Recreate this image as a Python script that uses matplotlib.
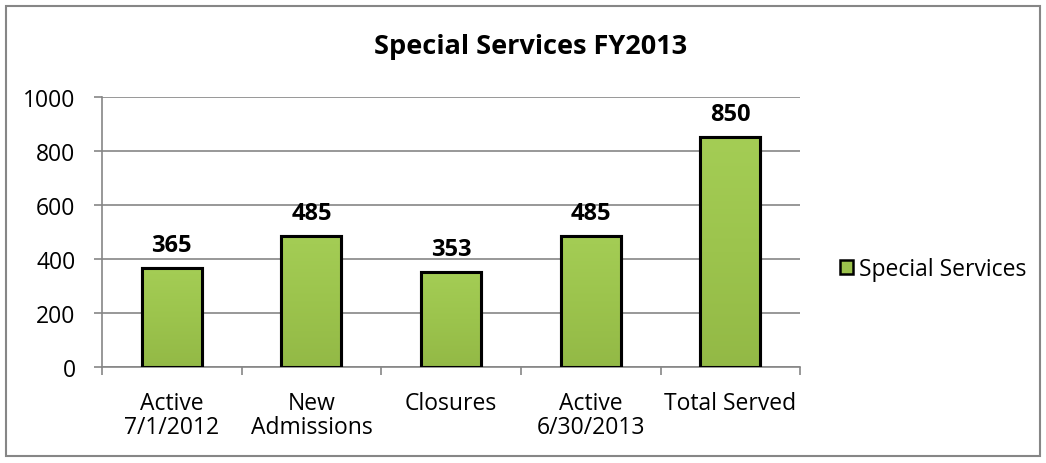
import numpy as np
import matplotlib.pyplot as plt
from matplotlib.patches import Rectangle
from matplotlib.colors import LinearSegmentedColormap

categories = ['Active\n7/1/2012', 'New\nAdmissions', 'Closures', 'Active\n6/30/2013', 'Total Served']
values = [365, 485, 353, 485, 850]
series_name = 'Special Services'
title = 'Special Services FY2013'
y_ticks = [0, 200, 400, 600, 800, 1000]

plt.rcParams['font.family'] = ['Open Sans', 'DejaVu Sans']

fig = plt.figure(figsize=(10.46, 4.64), dpi=100)
ax = fig.add_axes([0.0975, 0.207, 0.6675, 0.582])

# outer chart frame
fig.patches.append(Rectangle((6 / 1046, 7 / 464), 1034 / 1046, 450 / 464,
                             transform=fig.transFigure, fill=False,
                             edgecolor='#868686', linewidth=1.5))

x = np.arange(len(categories))
bars = ax.bar(x, values, width=0.43, color='#9bc24c', edgecolor='black',
              linewidth=2.2, zorder=3, label=series_name)

# soft vertical shading inside each bar
cmap = LinearSegmentedColormap.from_list('grn', ['#93b946', '#9cc44d', '#a4cd55'])
grad = np.linspace(0, 1, 256).reshape(-1, 1)
for b in bars:
    x0, y0 = b.get_x(), b.get_y()
    w, h = b.get_width(), b.get_height()
    im = ax.imshow(grad, cmap=cmap, origin='lower', aspect='auto',
                   extent=(x0, x0 + w, y0, y0 + h), zorder=3.5)
    im.set_clip_path(b)
    ax.add_patch(Rectangle((x0, y0), w, h, fill=False, edgecolor='black',
                           linewidth=2.2, zorder=4))

for xi, v in zip(x, values):
    ax.annotate(str(v), (xi, v), xytext=(0, 8), textcoords='offset points',
                ha='center', va='bottom', fontsize=17, fontweight='bold')

ax.set_xlim(-0.5, len(categories) - 0.5)
ax.set_ylim(0, 1000)
ax.set_yticks(y_ticks)
ax.set_xticks(np.arange(len(categories) + 1) - 0.5, minor=False)
ax.set_xticklabels([])
ax.set_xticks(x, minor=True)
ax.set_xticklabels(categories, minor=True, fontsize=16.5, linespacing=1.0)
ax.tick_params(axis='x', which='minor', length=0, pad=17)
ax.tick_params(axis='x', which='major', length=6, color='#868686', width=1.2)
ax.tick_params(axis='y', length=6, color='#868686', width=1.2, labelsize=16.5, pad=13)

ax.yaxis.grid(True, color='#868686', linewidth=1.2, zorder=0)
ax.set_axisbelow(True)
for s in ['top', 'right']:
    ax.spines[s].set_visible(False)
for s in ['left', 'bottom']:
    ax.spines[s].set_color('#868686')
    ax.spines[s].set_linewidth(1.2)

fig.text(0.507, 0.898, title, ha='center', va='center', fontsize=19.5, fontweight='bold')

fig.legend(handles=[Rectangle((0, 0), 1, 1, facecolor='#9bc24c', edgecolor='black', linewidth=1.8)],
           labels=[series_name], loc='center left', bbox_to_anchor=(0.783, 0.418),
           frameon=False, fontsize=16.5, handlelength=0.6, handleheight=0.6,
           handletextpad=0.25)

fig.savefig('out.png', dpi=100)
